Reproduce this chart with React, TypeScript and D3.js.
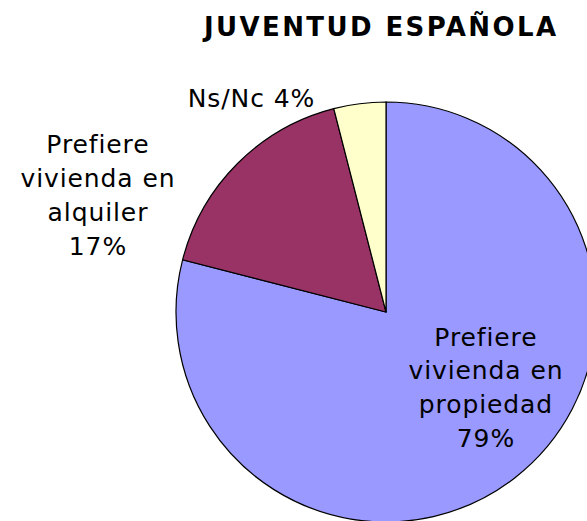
import * as d3 from 'd3';
import { useEffect, useRef } from 'react';

const categories = ['Prefiere vivienda en propiedad', 'Prefiere vivienda en alquiler', 'Ns/Nc'];
const values = [79, 17, 4];
const colors = ['#9999FF', '#993366', '#FFFFCC'];
const labelLines = [
  ['Prefiere', 'vivienda en', 'propiedad', '79%'],
  ['Prefiere', 'vivienda en', 'alquiler', '17%'],
  ['Ns/Nc 4%'],
];
const title = 'JUVENTUD ESPAÑOLA';

const App = () => {
  const svgRef = useRef<SVGSVGElement | null>(null);

  useEffect(() => {
    if (!svgRef.current) return;
    const svg = d3.select(svgRef.current);
    svg.selectAll('*').remove();

    const cx = 386;
    const cy = 312;
    const radius = 210;

    const data = categories.map((c, i) => ({ name: c, value: values[i], color: colors[i], lines: labelLines[i] }));
    const pie = d3
      .pie<{ name: string; value: number; color: string; lines: string[] }>()
      .sort(null)
      .value((d) => d.value);
    const arc = d3.arc<d3.PieArcDatum<any>>().innerRadius(0).outerRadius(radius);

    const g = svg.append('g').attr('transform', `translate(${cx},${cy})`);
    g.selectAll('path')
      .data(pie(data))
      .enter()
      .append('path')
      .attr('d', arc)
      .attr('fill', (d) => d.data.color)
      .attr('stroke', '#000')
      .attr('stroke-width', 1.2);

    // title, letter-spacing widens the DejaVu glyphs to Verdana-like width
    svg
      .append('text')
      .attr('x', 380 + 1.2)
      .attr('y', 36)
      .attr('text-anchor', 'middle')
      .attr('font-family', 'DejaVu Sans')
      .attr('font-weight', 'bold')
      .attr('font-size', 26)
      .attr('letter-spacing', 2.4)
      .text(title);

    const labelPos = [
      { x: 485.5, y: 345.5 },
      { x: 97.5, y: 153.3 },
      { x: 251, y: 106.7 },
    ];
    data.forEach((d, i) => {
      const t = svg
        .append('text')
        .attr('text-anchor', 'middle')
        .attr('font-family', 'DejaVu Sans')
        .attr('font-size', 25)
        .attr('letter-spacing', 0.9)
        .attr('fill', '#000');
      d.lines.forEach((line, j) => {
        t.append('tspan')
          .attr('x', labelPos[i].x + 0.45)
          .attr('y', labelPos[i].y + j * 33.8)
          .text(line);
      });
    });
  }, []);

  return (
    <svg
      ref={svgRef}
      width={587}
      height={521}
      style={{ position: 'absolute', left: 0, top: 0, background: '#fff' }}
    ></svg>
  );
};

export default App;
